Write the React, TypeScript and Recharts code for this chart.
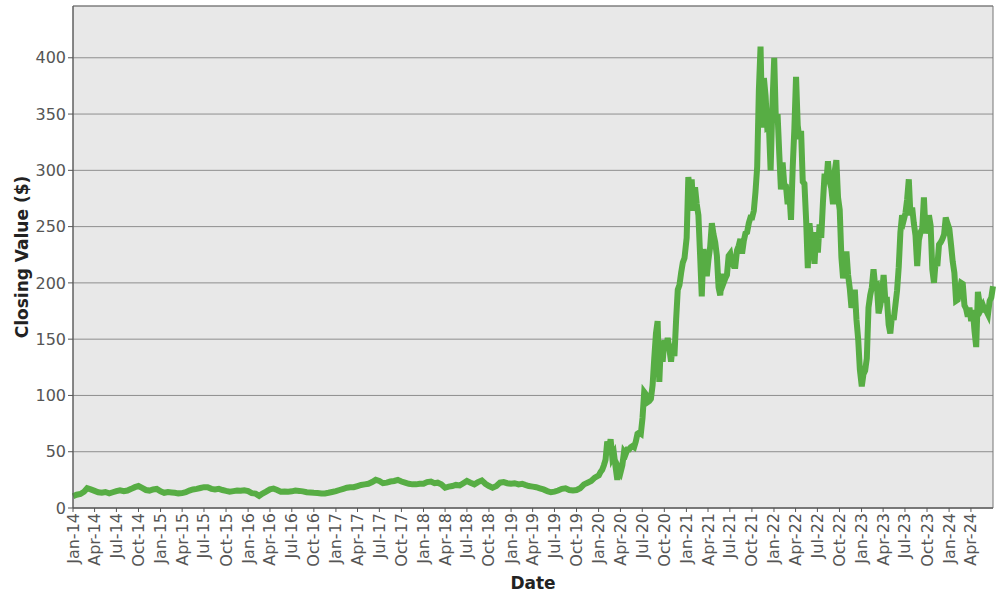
import React from "react";
import { LineChart, Line, XAxis, YAxis, CartesianGrid, Label, ReferenceArea } from "recharts";

// closes on the 1st and 16th of each month, 2014-2019
const close2014 = [10.5, 11.8, 12.5, 14.5, 17.5, 16.5, 15.2, 14.0, 13.5, 14.2, 13.0, 14.0, 15.0, 15.8, 15.0, 15.5, 17.0, 18.5, 19.5, 17.8, 16.0, 15.5, 16.5, 17.0];
const close2015 = [14.8, 13.5, 14.2, 13.8, 13.5, 13.0, 13.2, 14.0, 15.5, 16.5, 17.0, 17.8, 18.5, 18.5, 17.0, 16.5, 17.0, 16.0, 15.2, 14.5, 15.0, 15.5, 15.3, 15.8];
const close2016 = [15.0, 13.2, 12.8, 10.8, 12.8, 14.5, 16.5, 17.2, 16.0, 14.5, 14.6, 14.5, 14.8, 15.5, 15.2, 14.8, 14.0, 13.8, 13.5, 13.3, 12.8, 12.9, 13.5, 14.2];
const close2017 = [15.0, 16.0, 17.0, 18.0, 18.5, 18.5, 19.5, 20.5, 21.0, 21.5, 23.0, 25.0, 24.0, 22.0, 22.5, 23.5, 24.0, 25.0, 23.5, 22.5, 21.5, 21.0, 21.0, 21.5];
const close2018 = [21.5, 23.0, 23.5, 22.0, 22.5, 21.0, 18.0, 19.0, 19.5, 20.5, 20.0, 22.0, 24.0, 22.5, 21.0, 23.0, 24.5, 21.5, 19.5, 18.0, 19.5, 22.5, 23.0, 22.0];
const close2019 = [21.5, 22.0, 21.0, 21.5, 20.5, 19.5, 19.0, 18.5, 17.5, 16.5, 15.0, 14.0, 14.5, 15.5, 17.0, 17.5, 16.0, 15.5, 16.0, 17.5, 21.0, 22.5, 24.0, 27.0];

// weekly closes starting Jan 2, 2020-2024
const close2020 = [29, 32, 34, 38, 43, 59, 53, 61, 45, 48, 36, 25, 35, 32, 38, 50, 48, 52, 52, 54, 55, 54, 59, 66, 67, 66, 80, 103, 101, 94, 95, 97, 109, 133, 155, 166, 112, 148, 130, 149, 142, 151, 141, 130, 146, 135, 167, 194, 198, 209, 218, 222];
const close2021 = [240, 294, 282, 292, 264, 285, 270, 260, 225, 188, 230, 218, 206, 221, 232, 253, 243, 236, 224, 196, 189, 208, 200, 204, 207, 224, 226, 218, 215, 215, 229, 233, 239, 226, 237, 244, 245, 253, 258, 258, 264, 281, 303, 371, 410, 338, 382, 366, 338, 339, 300, 355];
const close2022 = [400, 343, 350, 315, 283, 307, 287, 286, 270, 280, 256, 302, 337, 383, 340, 328, 335, 290, 288, 256, 213, 253, 238, 232, 217, 245, 227, 252, 240, 271, 297, 288, 308, 290, 284, 270, 299, 309, 276, 265, 223, 204, 214, 228, 207, 195, 178, 183, 194, 167, 150, 123];
const close2023 = [108, 119, 122, 133, 178, 189, 196, 212, 197, 198, 173, 180, 190, 207, 185, 185, 163, 155, 171, 167, 180, 193, 214, 245, 260, 256, 262, 274, 292, 260, 267, 253, 242, 215, 238, 245, 248, 276, 244, 250, 260, 251, 212, 200, 219, 215, 234, 236, 239, 243, 258, 253];
const close2024 = [248, 234, 219, 209, 184, 185, 193, 200, 199, 180, 177, 170, 178, 166, 176, 157, 143, 192, 182, 177, 180, 176, 175, 172, 184, 187, 197];

const monthNames = ["Jan", "Feb", "Mar", "Apr", "May", "Jun", "Jul", "Aug", "Sep", "Oct", "Nov", "Dec"];
const tickYears = [2014, 2015, 2016, 2017, 2018, 2019, 2020, 2021, 2022, 2023, 2024];
const tickMonths = [0, 3, 6, 9];
const yTicks = [0, 50, 100, 150, 200, 250, 300, 350, 400];

const DAY = 86400000;

const semiMonthly: [number, number[]][] = [
  [2014, close2014], [2015, close2015], [2016, close2016],
  [2017, close2017], [2018, close2018], [2019, close2019],
];
const weekly: [number, number[]][] = [
  [2020, close2020], [2021, close2021], [2022, close2022], [2023, close2023], [2024, close2024],
];

const data: { date: number; close: number }[] = [];
semiMonthly.forEach(([y, vals]) =>
  vals.forEach((v, i) => data.push({ date: Date.UTC(y, Math.floor(i / 2), i % 2 ? 16 : 1), close: v }))
);
weekly.forEach(([y, vals]) =>
  vals.forEach((v, i) => data.push({ date: Date.UTC(y, 0, 2) + i * 7 * DAY, close: v }))
);

const xTicks: number[] = [];
tickYears.forEach((y) =>
  tickMonths.forEach((m) => {
    if (y < 2024 || m <= 3) xTicks.push(Date.UTC(y, m, 1));
  })
);

const fmtDate = (t: number) => {
  const d = new Date(t);
  return monthNames[d.getUTCMonth()] + "-" + String(d.getUTCFullYear()).slice(2);
};

const minX = data[0].date;
const maxX = data[data.length - 1].date;
const Y_MAX = 446;

const RotTick = (props: any) => {
  const { x, y, payload } = props;
  return (
    <text
      x={x}
      y={y}
      transform={`rotate(-90 ${x} ${y})`}
      textAnchor="end"
      dominantBaseline="central"
      fontSize={16}
      fill="#555"
      fontFamily="DejaVu Sans"
    >
      {fmtDate(payload.value)}
    </text>
  );
};

export default function App() {
  return (
    <div style={{ position: "absolute", left: 0, top: 0, fontFamily: "DejaVu Sans" }}>
      <LineChart width={1000} height={600} data={data} margin={{ top: 6, right: 7, left: 13, bottom: 0 }}>
        <CartesianGrid vertical={false} stroke="#8e8e8e" fill="#E8E8E8" />
        <XAxis
          dataKey="date"
          type="number"
          scale="linear"
          domain={[minX, maxX]}
          ticks={xTicks}
          interval={0}
          height={92}
          tick={<RotTick />}
          tickSize={4}
          tickMargin={1}
          stroke="#555"
        >
          <Label
            value="Date"
            position="insideBottom"
            offset={11}
            style={{ fontSize: 17, fontWeight: "bold", fill: "#222", fontFamily: "DejaVu Sans" }}
          />
        </XAxis>
        <YAxis
          type="number"
          domain={[0, Y_MAX]}
          ticks={yTicks}
          width={60}
          tickSize={5}
          tickMargin={2}
          stroke="#555"
          tick={{ fontSize: 16, fill: "#555", fontFamily: "DejaVu Sans" }}
        >
          <Label
            value="Closing Value ($)"
            angle={-90}
            position="insideLeft"
            offset={9}
            style={{ fontSize: 17, fontWeight: "bold", fill: "#222", textAnchor: "middle", fontFamily: "DejaVu Sans" }}
          />
        </YAxis>
        <ReferenceArea x1={minX} x2={maxX} y1={0} y2={Y_MAX} fill="none" stroke="#777" strokeWidth={1} />
        <Line
          type="linear"
          dataKey="close"
          stroke="#57AD44"
          strokeWidth={6}
          strokeLinejoin="miter"
          dot={false}
          isAnimationActive={false}
        />
      </LineChart>
    </div>
  );
}
